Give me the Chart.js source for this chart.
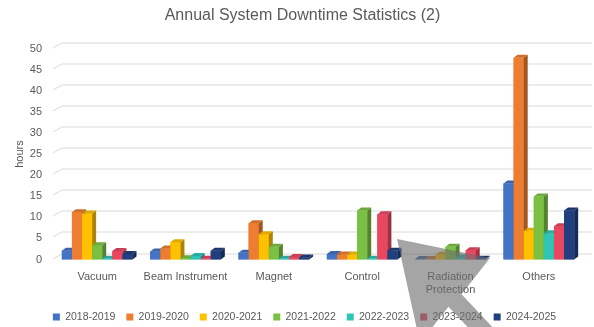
<!DOCTYPE html>
<html><head><meta charset="utf-8">
<script src="https://cdn.jsdelivr.net/npm/chart.js@4.4.1/dist/chart.umd.min.js"></script>
<style>html,body{margin:0;padding:0;background:#fff}canvas{display:block}</style>
</head><body>
<canvas id="c" width="594" height="327"></canvas>
<script>
const categories = ['Vacuum', 'Beam Instrument', 'Magnet', 'Control', ['Radiation', 'Protection'], 'Others'];
const seriesNames = ['2018-2019', '2019-2020', '2020-2021', '2021-2022', '2022-2023', '2023-2024', '2024-2025'];
const s2018 = [2.1, 1.9, 1.6, 1.3, 0.1, 18.0];
const s2019 = [11.2, 2.6, 8.6, 1.2, 0.1, 47.8];
const s2020 = [10.9, 4.1, 6.0, 1.2, 1.1, 6.8];
const s2021 = [3.4, 0.3, 3.0, 11.6, 3.0, 14.9];
const s2022 = [0.2, 0.8, 0.2, 0.2, 0.5, 6.2];
const s2023 = [2.0, 0.2, 0.6, 10.7, 2.2, 7.9];
const s2024 = [1.3, 2.1, 0.5, 2.1, 0.2, 11.6];
const seriesValues = [s2018, s2019, s2020, s2021, s2022, s2023, s2024];
const colors = ['#4472C4', '#ED7D31', '#FFC000', '#7AC143', '#2EC4B6', '#E8475F', '#1F3F7F'];
const yTicks = [0, 5, 10, 15, 20, 25, 30, 35, 40, 45, 50];

const TXT = '#595959';
const FONT = "'Liberation Sans', Arial, sans-serif";
const DX = 4, DY = 3;

function shade(hex, f) {
  const n = parseInt(hex.slice(1), 16);
  const r = (n >> 16) & 255, g = (n >> 8) & 255, b = n & 255;
  return 'rgb(' + Math.round(r * f) + ',' + Math.round(g * f) + ',' + Math.round(b * f) + ')';
}

const shiftBoxes = {
  id: 'shiftBoxes',
  afterLayout(chart) {
    if (chart.titleBlock) { chart.titleBlock.left += 11; chart.titleBlock.right += 11; }
    if (chart.legend) { chart.legend.left += 13; chart.legend.right += 13; }
  }
};

const bars3d = {
  id: 'bars3d',
  beforeDatasetsDraw(chart) {
    const {ctx, chartArea, scales} = chart;
    const y = scales.y;
    ctx.save();
    ctx.strokeStyle = '#d9d9d9';
    ctx.lineWidth = 1;
    y.ticks.forEach(t => {
      const fy = Math.round(y.getPixelForValue(t.value)) + 0.5;
      ctx.beginPath();
      ctx.moveTo(chartArea.left, fy - 1.5);
      ctx.lineTo(chartArea.left + 9, fy - 6.5);
      ctx.lineTo(chartArea.right + 9, fy - 6.5);
      ctx.stroke();
    });
    ctx.restore();
  },
  afterDatasetsDraw(chart) {
    const ctx = chart.ctx;
    const nCat = chart.data.labels.length;
    const nDs = chart.data.datasets.length;
    ctx.save();
    for (let i = 0; i < nCat; i++) {
      for (let d = 0; d < nDs; d++) {
        const el = chart.getDatasetMeta(d).data[i];
        const p = el.getProps(['x', 'y', 'base', 'width'], true);
        const l = p.x - p.width / 2, r = p.x + p.width / 2, top = p.y, base = p.base;
        const c = colors[d];
        ctx.fillStyle = c;
        ctx.fillRect(l, top, r - l, base - top);
        ctx.fillStyle = shade(c, 0.68);
        ctx.beginPath();
        ctx.moveTo(r, top); ctx.lineTo(r + DX, top - DY); ctx.lineTo(r + DX, base - DY); ctx.lineTo(r, base);
        ctx.closePath(); ctx.fill();
        ctx.fillStyle = shade(c, 0.88);
        ctx.beginPath();
        ctx.moveTo(l, top); ctx.lineTo(l + DX, top - DY); ctx.lineTo(r + DX, top - DY); ctx.lineTo(r, top);
        ctx.closePath(); ctx.fill();
      }
    }
    ctx.restore();
  }
};

// grey pointer arrow overlay seen in the reference picture
const arrowOverlay = {
  id: 'arrowOverlay',
  afterDraw(chart) {
    const ctx = chart.ctx;
    const T = [397, 239], B1 = [420, 343], B2 = [490, 258];
    const mid = [(B1[0] + B2[0]) / 2, (B1[1] + B2[1]) / 2];
    let dir = [mid[0] - T[0], mid[1] - T[1]];
    const len = Math.hypot(dir[0], dir[1]);
    dir = [dir[0] / len, dir[1] / len];
    const nrm = [dir[1], -dir[0]];
    const w = 9;
    const J2 = [mid[0] + w * nrm[0], mid[1] + w * nrm[1]];
    const J1 = [mid[0] - w * nrm[0], mid[1] - w * nrm[1]];
    const E2 = [J2[0] + 120 * dir[0], J2[1] + 120 * dir[1]];
    const E1 = [J1[0] + 120 * dir[0], J1[1] + 120 * dir[1]];
    ctx.save();
    ctx.fillStyle = 'rgba(110,110,110,0.62)';
    ctx.beginPath();
    [T, B2, J2, E2, E1, J1, B1].forEach((pt, k) => k ? ctx.lineTo(pt[0], pt[1]) : ctx.moveTo(pt[0], pt[1]));
    ctx.closePath();
    ctx.fill();
    ctx.restore();
  }
};

new Chart(document.getElementById('c'), {
  type: 'bar',
  data: {
    labels: categories,
    datasets: seriesNames.map((name, k) => ({
      label: name,
      data: seriesValues[k],
      backgroundColor: colors[k],
      borderWidth: 0,
      barPercentage: 1.0,
      categoryPercentage: 0.8
    }))
  },
  options: {
    responsive: false,
    animation: false,
    devicePixelRatio: 1,
    layout: {padding: {left: 0, right: 11, top: 0, bottom: -5.25}},
    plugins: {
      title: {
        display: true,
        text: 'Annual System Downtime Statistics (2)',
        color: TXT,
        font: {family: FONT, size: 16, weight: 'normal'},
        padding: {top: 6, bottom: 23.3}
      },
      legend: {
        position: 'bottom',
        labels: {
          boxWidth: 7, boxHeight: 7, padding: 11, color: TXT,
          font: {family: FONT, size: 10.5}
        }
      },
      tooltip: {enabled: false}
    },
    scales: {
      x: {
        grid: {display: false, drawTicks: false},
        border: {display: false},
        ticks: {color: TXT, font: {family: FONT, size: 11}, padding: 10.6, maxRotation: 0, autoSkip: false},
        afterFit(s) { s.height = 41.25; }
      },
      y: {
        min: 0, max: 50,
        grid: {display: false, drawTicks: false},
        border: {display: false},
        afterBuildTicks(s) { s.ticks = yTicks.map(v => ({value: v})); },
        ticks: {color: TXT, font: {family: FONT, size: 11}, padding: 11},
        title: {display: true, text: 'hours', color: TXT, font: {family: FONT, size: 11}, padding: {top: 13, bottom: 0}},
        afterFit(s) { s.width = 53; }
      }
    }
  },
  plugins: [shiftBoxes, bars3d, arrowOverlay]
});
</script>
</body></html>
